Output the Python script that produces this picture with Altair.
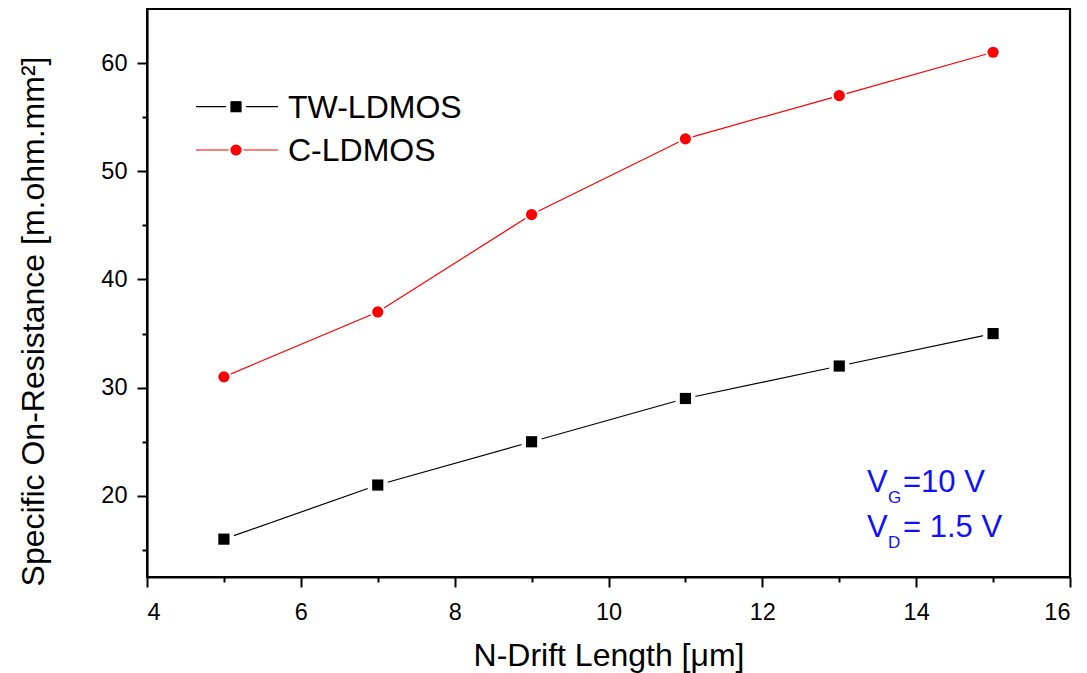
import altair as alt
import pandas as pd

# ---- data ----
drift_length = [5, 7, 9, 11, 13, 15]
tw_ldmos = [16.0, 21.0, 25.0, 29.0, 32.0, 35.0]
c_ldmos = [31.0, 37.0, 46.0, 53.0, 57.0, 61.0]
series_names = ["TW-LDMOS", "C-LDMOS"]
series_colors = ["#000000", "#FF0000"]
series_shapes = ["square", "circle"]

x_major = [4, 6, 8, 10, 12, 14, 16]
x_minor = [5, 7, 9, 11, 13, 15]
y_major = [20, 30, 40, 50, 60]
y_minor = [15, 25, 35, 45, 55]

df = pd.DataFrame({
    "x": drift_length * 2,
    "y": tw_ldmos + c_ldmos,
    "s": [series_names[0]] * len(drift_length) + [series_names[1]] * len(drift_length),
})

FONT = "Liberation Sans"
W, H = 923, 568

x_scale = alt.Scale(domain=[4, 16], nice=False, zero=False)
y_scale = alt.Scale(domain=[12.5, 65], nice=False, zero=False)
color_scale = alt.Scale(domain=series_names, range=series_colors)
shape_scale = alt.Scale(domain=series_names, range=series_shapes)

axis_common = dict(grid=False, domainColor="black", domainWidth=2.2, tickColor="black",
                   tickWidth=2, labelFont=FONT, labelFontSize=23.5, labelColor="black",
                   titleFont=FONT, titleFontSize=32, titleFontWeight="normal", titleColor="black")

x_axis_major = alt.Axis(values=x_major, orient="bottom", tickSize=10, labelPadding=13,
                        title="N-Drift Length [μm]", titleY=88, titleBaseline="alphabetic",
                        format="d", **axis_common)
y_axis_major = alt.Axis(values=y_major, orient="left", tickSize=10, labelPadding=10,
                        title="Specific On-Resistance [m.ohm.mm²]", titleX=-104, titleY=312,
                        titleBaseline="alphabetic", titleAlign="center", titleAngle=-90,
                        format="d", **axis_common)
x_axis_minor = alt.Axis(values=x_minor, orient="bottom", tickSize=5, labels=False, domain=False,
                        title=None, grid=False, tickColor="black", tickWidth=2)
y_axis_minor = alt.Axis(values=y_minor, orient="left", tickSize=5, labels=False, domain=False,
                        title=None, grid=False, tickColor="black", tickWidth=2)

base = alt.Chart(df)

lines = base.mark_line(strokeWidth=1.2).encode(
    x=alt.X("x:Q", scale=x_scale, axis=x_axis_major),
    y=alt.Y("y:Q", scale=y_scale, axis=y_axis_major),
    color=alt.Color("s:N", scale=color_scale, legend=None),
    detail="s:N",
)

gaps = base.mark_point(filled=True, opacity=1, strokeWidth=0).encode(
    x=alt.X("x:Q", scale=x_scale, axis=None),
    y=alt.Y("y:Q", scale=y_scale, axis=None),
    shape=alt.Shape("s:N", scale=shape_scale, legend=None),
    size=alt.Size("s:N", scale=alt.Scale(domain=series_names, range=[400, 230]), legend=None),
    color=alt.value("white"),
)

markers = base.mark_point(filled=True, opacity=1, strokeWidth=0).encode(
    x=alt.X("x:Q", scale=x_scale, axis=None),
    y=alt.Y("y:Q", scale=y_scale, axis=None),
    shape=alt.Shape("s:N", scale=shape_scale, legend=None),
    color=alt.Color("s:N", scale=color_scale, legend=None),
    size=alt.Size("s:N", scale=alt.Scale(domain=series_names, range=[125, 125]), legend=None),
)

minor = base.mark_point(opacity=0).encode(
    x=alt.X("x:Q", scale=x_scale, axis=x_axis_minor),
    y=alt.Y("y:Q", scale=y_scale, axis=y_axis_minor),
)

# ---- top / right frame lines ----
frame_df = pd.DataFrame({"f": ["frame"]})
frame_top = alt.Chart(frame_df).mark_rule(color="black", strokeWidth=2.2).encode(
    x=alt.value(0), x2=alt.value(W), y=alt.value(0))
frame_right = alt.Chart(frame_df).mark_rule(color="black", strokeWidth=2.2).encode(
    x=alt.value(W), y=alt.value(-1), y2=alt.value(H + 1))

# ---- legend (drawn by hand, Origin style) ----
leg_layers = []
leg_y = [97.7, 141]
gap_sizes = [400, 230]
for i, name in enumerate(series_names):
    ldf = pd.DataFrame({"label": [name]})
    lc = alt.Chart(ldf)
    leg_layers.append(lc.mark_rule(strokeWidth=1.2, color=series_colors[i]).encode(
        x=alt.value(49), x2=alt.value(131), y=alt.value(leg_y[i])))
    leg_layers.append(lc.mark_point(filled=True, opacity=1, strokeWidth=0, color="white",
                                    shape=series_shapes[i], size=gap_sizes[i]).encode(
        x=alt.value(89), y=alt.value(leg_y[i])))
    leg_layers.append(lc.mark_point(filled=True, opacity=1, strokeWidth=0, color=series_colors[i],
                                    shape=series_shapes[i], size=125).encode(
        x=alt.value(89), y=alt.value(leg_y[i])))
    leg_layers.append(lc.mark_text(align="left", baseline="middle", font=FONT, fontSize=32,
                                   color="black").encode(
        x=alt.value(141), y=alt.value(leg_y[i] + 1), text="label:N"))

# ---- annotation V_G / V_D ----
ann_main = ["V", "=10 V", "V", "= 1.5 V"]
ann_sub = ["G", "D"]
blue = "#1010FF"
ann_layers = []
ann_rows = [482.7, 527.7]
for r in range(2):
    adf = pd.DataFrame({"a": [ann_main[2 * r]], "b": [ann_sub[r]], "c": [ann_main[2 * r + 1]]})
    ac = alt.Chart(adf)
    ann_layers.append(ac.mark_text(align="left", baseline="alphabetic", font=FONT, fontSize=31,
                                   color=blue).encode(x=alt.value(720), y=alt.value(ann_rows[r]), text="a:N"))
    ann_layers.append(ac.mark_text(align="left", baseline="alphabetic", font=FONT, fontSize=17,
                                   color=blue).encode(x=alt.value(741), y=alt.value(ann_rows[r] + 11), text="b:N"))
    ann_layers.append(ac.mark_text(align="left", baseline="alphabetic", font=FONT, fontSize=31,
                                   color=blue).encode(x=alt.value(756), y=alt.value(ann_rows[r]), text="c:N"))

chart = alt.layer(lines, gaps, markers, minor, frame_top, frame_right,
                  *leg_layers, *ann_layers).resolve_axis(
    x="independent", y="independent"
).resolve_scale(size="independent").properties(
    width=W, height=H,
    background="white",
    autosize=alt.AutoSizeParams(type="none"),
    padding={"left": 147, "top": 9, "right": 17, "bottom": 96},
).configure_view(stroke="black", strokeWidth=2)

chart.save("out.html", embed_options={"renderer": "svg", "actions": False})
